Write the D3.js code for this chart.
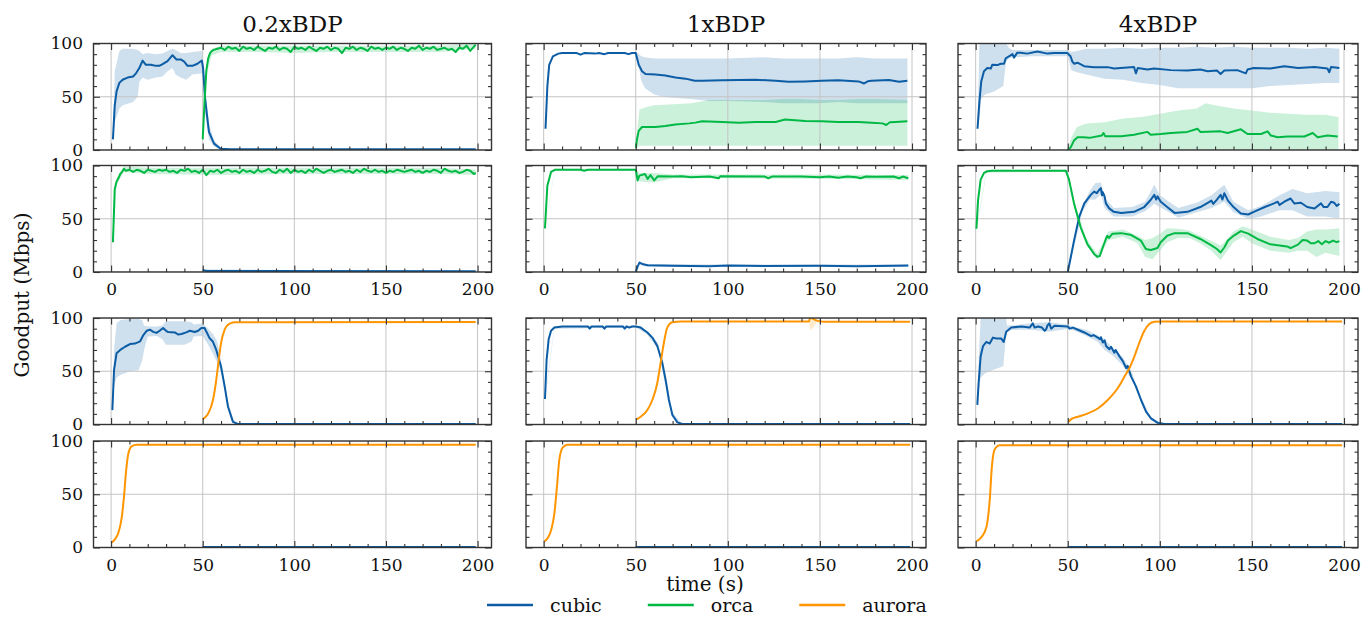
<!DOCTYPE html>
<html>
<head>
<meta charset="utf-8">
<script src="https://cdn.jsdelivr.net/npm/d3@7"></script>
<style>
    body { margin: 0; background: #fff; }
    svg { display: block; }
</style>
</head>
<body>
<svg id="chart" width="1361" height="617"></svg>
<script>
const columnTitles = ["0.2xBDP", "1xBDP", "4xBDP"];
const colors = { cubic: "#0C5DA5", orca: "#00B945", aurora: "#FF9500" };
const legendNames = ["cubic", "orca", "aurora"];
const xTicks = [0, 50, 100, 150, 200];
const xMinor = [10, 20, 30, 40, 60, 70, 80, 90, 110, 120, 130, 140, 160, 170, 180, 190];
const yTicks = [0, 50, 100];
const yMinor = [10, 20, 30, 40, 60, 70, 80, 90];

// ---- row 1 : cubic vs orca (cubic first) ----
const cubic_r1_02 = [[1,10],[2,42],[3,55],[4.5,63],[6.3,66],[9,68],[12,69],[13.6,72],[15.4,77],[17.2,84],[19,80],[21.7,80],[24.5,79],[26.3,79],[28.1,80.6],[30.8,83.5],[33.5,89],[35.7,85],[38,85],[39.9,83],[41.7,79],[44.4,79],[47.1,81],[49.5,84],[50.2,77],[51.3,48],[53.4,17],[56.2,6],[59.8,1.2],[65,0.6],[199,0.6]];
const cubic_r1_02_band = [[1,10,12],[2,26,74],[4.5,39,93],[6.3,42,95],[12,45,95],[14.5,50,94],[15.4,64,93],[17.2,68,90],[19.9,66,91],[24.5,68,90],[28.1,69,90.5],[30.8,74,93],[33.5,77,95],[35.2,71,94],[38,68,91],[41,66,91],[44.4,71,92],[49.5,72,93],[50.2,60,85],[51.3,35,60],[53.4,10,25],[56.2,3,9],[60,0,2],[65,0,1]];
const orca_r1_02_start = [[50,10],[51,45],[52,75],[53,86],[54,91],[55,93]];
const orca_r1_02_vals = [94,95,96,94,97,95,96,93,97,95,96,94,97,95,93,96,95,97,94,96,95,92,97,95,96,94,97,95,93,96,95,97,94,96,95,91,96,95,97,94,96,95,93,97,95,96,94,96,95,97,94,96,95,93,96,95,98,94,96,95,97,94,95,96,94,95,92,96,95,98,93,97];
const orca_r1_02_end = [[199,99]];
const orca_r1_02_band = [[50,8,12],[52,70,80],[55,89,95],[60,92,98],[80,92,98],[100,91,98],[120,92,98],[140,92,98],[160,92,98],[180,92,98],[199,95,100]];

const cubic_r1_1 = [[1,20],[2,60],[3,80],[5,88],[8,90.5],[10,91],[18,91],[20,89.5],[22,91],[28,90.5],[30,91],[33,90],[35,91],[44,91],[46,90],[48,91],[50,91],[51.6,80],[53.4,74],[55.3,71.4],[60.7,70.8],[66,70],[71.6,68],[77,67],[82,65],[86,65],[97,65.4],[106,65.7],[115,66],[126,65],[133,64],[142,64.4],[151,65],[160,65.4],[171,64.4],[174,62.5],[176,64.5],[178,65],[187.5,65.7],[193,64],[197.5,65]];
const cubic_r1_1_band = [[50,89,93],[51,85,91],[53,65,88],[55,58,87],[60,52,86],[65,50,86],[70,49,86],[80,48,86],[90,46,86],[100,46,86],[120,45,87],[130,44,86],[140,44,86],[150,44,86],[160,45,86],[170,44,87],[180,44,86],[190,44,86],[197.5,44,86]];
const orca_r1_1 = [[50,2],[50.7,10.5],[51.6,18],[53.4,21.6],[57,21.6],[60.7,21.6],[66,22.5],[71.5,24],[79,25],[82.4,25.7],[86,27],[97,26.3],[106,25.7],[115,26.3],[126,26.3],[131,28.6],[142,27.3],[151,27],[160,26.3],[171,26.3],[178,25.5],[184,25],[186,23.5],[188,26],[191,26.3],[197.5,27]];
const orca_r1_1_band = [[50,1,5],[52,4,38],[55,4,40],[60,4,42],[70,4,43],[80,4,44],[90,4,47],[100,4,47],[120,4,47],[130,4,48],[140,4,48],[150,4,47],[160,4,47],[170,4,48],[180,4,48],[197.5,4,47]];

const cubic_r1_4 = [[1,20],[2,45],[3,64],[4.5,74],[6.3,77],[8.2,76.5],[9,80],[11.8,79.7],[13.6,81],[15.4,81],[16.3,86],[18.1,88],[20,90],[20.8,86.7],[22.6,91.4],[24.5,91.4],[28,90.5],[33.5,92.4],[39,90.5],[42.6,91],[49.8,91],[51.5,88],[52.5,83],[53.4,81],[55.3,82],[58.9,78.7],[64.3,77.8],[71.6,77.8],[75.2,76.5],[78.8,77],[86,78],[87,72],[88,77],[93.3,75.5],[97,76.5],[106,75],[115,74.6],[122,75.5],[126,74],[131,74.6],[133,71.4],[135,74.6],[142,75],[146.7,72],[147.6,75.5],[151,77],[160,76.5],[167.6,78.7],[175,77],[184,78],[191,76.5],[192,73],[193,78],[197.5,77]];
const cubic_r1_4_band = [[1,18,22],[2,30,100],[3,48,100],[5,52,100],[10,55,100],[15,60,100],[16.5,83,100],[18,86,96],[20,87,94],[30,88,94],[40,88,94],[50,88,94],[52,75,92],[55,73,93],[60,71,95],[70,67,95],[80,66,96],[90,63,95],[100,61,96],[110,58,96],[120,58,97],[130,58,96],[140,58,97],[150,58,96],[160,60,96],[170,61,96],[180,62,95],[190,63,96],[197.5,63,95]];
const orca_r1_4 = [[50,0],[51.6,2.5],[53.4,9],[55.3,12],[58.3,12],[61.8,11.4],[68.5,13.6],[69.4,16],[70.3,13],[79,13],[86,14.3],[93.3,17],[95,14.3],[100.5,15],[106,16],[115,17],[120.4,20],[122,17],[133,17.5],[136.8,16],[144,19.4],[147.6,15],[155,15],[158.5,17.5],[160.3,13.6],[164,12],[169.4,12.7],[178.5,12.7],[183,16],[185.7,12],[191,13.6],[196.6,12.7]];
const orca_r1_4_band = [[50,0,1],[52,0,12],[55,0,21.6],[60,0,24.8],[70,0,26],[80,0,29.5],[90,0,31],[100,0,34],[110,0,37],[120,0,39],[125,0,44],[130,0,42],[140,0,39],[150,0,37],[160,0,35],[170,0,34],[180,0,33],[190,0,33],[197,0,31]];

// ---- row 2 : orca first, cubic joins at 50 s ----
const cubic_r2_02 = [[50,1.8],[52,1],[199,0.6]];
const cubic_r2_02_band = [[50,1,2.5],[199,0,1]];
const orca_r2_02_start = [[1,28],[2,78],[3,85],[4,88],[5,92],[6,94],[7,97]];
const orca_r2_02_vals = [95,96,94,96,95,93,96,95,94,96,95,96,94,95,93,96,95,97,94,95,93,96,91,95,94,96,93,95,96,94,95,93,96,94,95,93,96,94,95,97,94,93,96,94,97,93,96,94,95,93,96,94,97,95,93,95,96,94,95,96,94,95,93,96,94,97,95,94,96,94,95,93,95,94,96,95,94,95,96,94,95,93,95,94,96,95,93,97,95,94,95,93,94,96,95,92];
const orca_r2_02_end = [[199,93]];
const orca_r2_02_band = [[1,26,30],[3,82,88],[7,94,99],[20,92,98],[60,91,98],[100,92,98],[140,92,98],[180,92,98],[199,91,96]];

const cubic_r2_1 = [[50,0],[51,5],[52,8.8],[54,7.2],[56.5,6.3],[70,5.8],[90,5.5],[100,6],[120,5.7],[150,5.8],[170,5.5],[190,5.8],[198,6]];
const cubic_r2_1_band = [[50,0,1],[52,7,10],[56,5,7.5],[100,4.8,7],[198,4.8,7]];
const orca_r2_1 = [[0.7,41],[2,81],[4,94],[6,96],[20,96],[22,95],[24,96],[50,96],[51,86],[52,90.5],[55,92],[56.5,87.4],[58,91],[60,86],[62,90],[70,89.6],[75,90],[80,89],[90,89.6],[95,88],[96,90],[120,89.6],[122,88],[124,89.6],[140,89.6],[150,89],[155,89.6],[160,88.5],[165,89.6],[170,89],[172,88],[175,89.6],[180,89.4],[190,89.6],[193,88],[195,89.6],[198,88]];
const orca_r2_1_band = [[0.7,40,42],[6,95,97],[50,95,97],[52,85,93],[60,84,93],[70,88,91.5],[100,88,91.5],[150,87.5,91.5],[198,86.5,91]];

const cubic_r2_4 = [[50,0],[51.6,13.6],[53.4,29.5],[56.2,51.7],[59,64.4],[62.5,72.4],[64.3,75.5],[65.8,74],[67,77],[68,78.7],[68.6,72],[69,75],[70,71],[70.7,64.4],[72.5,59.7],[75,56.5],[79,55.5],[86,56.5],[91.5,61],[95,67.6],[96,70],[97,72.4],[98,68],[98.7,71],[100.5,66],[104,61],[108,55.5],[115,56.5],[122,61],[126,65],[128,67],[129,64],[131,68],[133,72.4],[134,68],[135,74],[137,67],[140,61],[144,55],[148,54],[151,56.5],[157,61],[162,64.4],[164,66],[165,63],[167.6,66],[171,69],[173,64.4],[176.6,65],[180,61],[184,59.7],[187.5,64.4],[189,61],[191,61],[193,66],[194.7,65],[196,62],[197.5,64]];
const cubic_r2_4_band = [[50,0,2],[54,27,33],[58,57,63],[62,68,76],[65,68,83.5],[68,73,84],[70,60,70],[75,52,60],[85,52,61],[92,57,66],[97,64,82],[100,61,72],[105,56,66],[110,51,60],[120,56,65],[128,60,72],[135,66,82],[140,56,66],[148,50,58],[155,52,62],[165,58,72],[172,58,78],[180,52,74],[190,52,76],[197.5,50,75]];
const orca_r2_4 = [[0.4,40.6],[1.3,67.6],[2.7,86.7],[4.5,93],[6.3,94.6],[9,95],[49,95],[50.7,86.7],[53.4,64.4],[57,42],[60.7,26],[64.3,17],[66,14.3],[67.4,15],[69,23],[70.7,31],[71.5,34],[72.4,32],[74.3,36],[79,36.5],[84,35],[89.7,29.5],[92.4,21.6],[95,20.6],[97,21.6],[98.7,22.5],[100.5,28],[104,34],[108,36.5],[115,36.5],[122,31],[128,25],[131,21.6],[133,18.4],[135,23],[137,29.5],[140,34],[144,38.4],[148,36],[153,31],[160,26],[169,24],[171,22.5],[175,25.7],[177.5,30],[180,29.5],[182,27],[184,27],[186,29],[188,26],[190,29],[192,27.5],[194,29.5],[196,28],[197.5,29]];
const orca_r2_4_band = [[0.4,39,42],[6,93.5,96],[49,94,96],[55,50,58],[60,26,32],[66,12,17],[69,20,27],[72,30,38],[80,33,40],[88,27,34],[92,14,30],[96,12,32],[100,20,36],[104,28,41],[110,32,40.6],[116,32,39],[122,27,34],[128,20,29],[133,11,25],[135,16,28],[140,28,38],[145,33,43],[150,27,40],[160,20,33],[170,18,30],[175,20,32],[180,20,38],[185,14,40],[190,18,40],[197.5,15,41]];

// ---- row 3 : cubic vs aurora (cubic first) ----
const cubic_r3_02 = [[0.7,13.5],[1.6,51],[3,67],[5,70],[7.6,73],[10.3,75.5],[13,76],[15.8,78],[17.6,84],[19.4,88],[21.2,89],[23,87],[24.8,86],[26.5,88],[28.4,90.6],[30,88],[31.2,86.8],[34.8,86.5],[36.5,84.5],[38.4,85],[41,86.5],[43,88],[45.6,86.8],[47.5,88],[49.3,90.6],[51,90.6],[53.8,81],[55.5,78],[57.4,70],[60,54.4],[62,35.5],[63.8,16.7],[66.5,2.5],[69,0.5],[199,0.5]];
const cubic_r3_02_band = [[0.7,12,15],[1.6,35,70],[3,44,95],[5,46.5,98],[10,49.7,99],[15,51,99],[17,60,98],[18,70,93],[20,82.7,92],[25,83,92],[28,80,93],[30,75,97],[35,75,97],[40,75,97],[44,78,96],[45,82.7,94],[50,83,95],[53,75,90],[56,65,84],[58,58,78],[60,50,60],[62,32,40],[64,14,20],[67,1,4],[70,0,1]];
const aurora_r3_02 = [[50,5],[51.5,7],[53,10.4],[55.6,23],[57.4,42],[58.3,54.4],[60,76.4],[62,89],[64.7,94.7],[68,96],[199,96.2]];

const cubic_r3_1 = [[0.7,24],[1.6,61],[2.7,80],[4,88],[5.8,91],[10,92],[24,92],[25,90],[26,92],[32,92],[33,90],[34,92],[43,92],[44,90],[45,92],[46.5,91],[48,92],[50,92],[52.7,91],[56.3,86.4],[59,81.6],[61.7,73.7],[64.4,58],[66.2,42],[68,23],[69.9,8.9],[72.6,2],[75.3,0.5],[199,0.5]];
const cubic_r3_1_band = [[0.7,22,26],[5.8,90,92],[50,91,93],[56,85,88],[62,71,77],[66,38,46],[70,7,11],[75,0,1]];
const aurora_r3_1 = [[50.4,4.7],[52.7,7.3],[56.3,13.6],[59,23],[61.7,39],[63.5,58],[65.3,77],[67.1,91],[69.9,96],[74.4,96.8],[144,96.8],[144.8,100.6],[146.6,99],[148.4,97.5],[152,96.5],[199,96.5]];
const aurora_r3_1_band = [[144,96.5,97],[144.8,88,101],[146.6,92,100],[148.4,96,98.5],[150,96,97]];

const cubic_r3_4 = [[0.9,18.4],[1.6,39],[2.7,64],[4,73.7],[5.8,77.5],[7.6,76],[9.4,81.6],[11.2,80.7],[13.9,80.7],[15.2,77.5],[16.6,87],[19.3,91],[24.8,92],[29.3,91],[31,95],[32,91],[33.8,92],[36,91],[37.5,88],[38.3,89.6],[39,93],[40,95],[41,90],[42.8,92.7],[50,92],[51,90],[52.8,91],[55.5,89],[59,86.4],[62.7,83],[64,84],[66.3,81.6],[67.5,80],[68,82],[69,77],[70,79],[70.8,73.7],[72.6,70.6],[73.5,73],[75.3,67.4],[76,70],[78,64.2],[79.9,59.5],[81.7,53],[82.5,55],[84.4,45],[87,35.8],[89.8,23],[92.5,12],[95.2,5.7],[98.8,1.6],[102.4,0.5],[199,0.5]];
const cubic_r3_4_band = [[0.9,16,20],[1.6,30,60],[2.7,44,100],[5,48,100],[10,51.6,100],[15,54.7,100],[16.5,85,100],[17,87,93],[20,89,93],[30,89,95],[40,87,96],[50,90,94],[55,87,91],[60,83,89],[66,78,84],[70,70,80],[75,64,71],[80,55,63],[85,42,48],[90,21,25],[95,4,7],[100,0,2]];
const aurora_r3_4 = [[50.4,2.5],[51.9,5],[55.5,7.3],[60.9,10.4],[66.3,15],[71.7,23],[77.1,34],[80.8,45],[83.5,53],[86.2,64],[88.9,77],[91.6,88],[94.3,94.3],[97,96.5],[100.6,96.8],[199,96.8]];

// ---- row 4 : aurora first, cubic joins at 50 s ----
const cubic_r4 = [[50,0.5],[199,0.5]];
const aurora_r4_02 = [[0.4,4.7],[2.2,7.9],[4,14],[5.8,28],[7,47],[8.2,72],[9.4,88],[11.2,95],[14,96.5],[199,96.5]];
const aurora_r4_1 = [[0.4,5.7],[2.2,8.9],[4,15.9],[5.8,31.7],[7.2,57],[8.5,82.5],[10.3,93.7],[13,96.5],[199,96.5]];
const aurora_r4_4 = [[0.4,5.7],[3,9.5],[5.8,19],[7.6,44],[8.8,76],[10.3,92],[13,96],[199,96]];

// noisy orca series: values were read every 2 s
const withSteps = (start, vals, t0, end) => [...start, ...vals.map((v, i) => [t0 + 2 * i, v]), ...end];
const orca_r1_02 = withSteps(orca_r1_02_start, orca_r1_02_vals, 56, orca_r1_02_end);
const orca_r2_02 = withSteps(orca_r2_02_start, orca_r2_02_vals, 8, orca_r2_02_end);

const panels = [
    [
        [{ name: "cubic", line: cubic_r1_02, band: cubic_r1_02_band }, { name: "orca", line: orca_r1_02, band: orca_r1_02_band }],
        [{ name: "cubic", line: cubic_r1_1, band: cubic_r1_1_band }, { name: "orca", line: orca_r1_1, band: orca_r1_1_band }],
        [{ name: "cubic", line: cubic_r1_4, band: cubic_r1_4_band }, { name: "orca", line: orca_r1_4, band: orca_r1_4_band }]
    ],
    [
        [{ name: "cubic", line: cubic_r2_02, band: cubic_r2_02_band }, { name: "orca", line: orca_r2_02, band: orca_r2_02_band }],
        [{ name: "cubic", line: cubic_r2_1, band: cubic_r2_1_band }, { name: "orca", line: orca_r2_1, band: orca_r2_1_band }],
        [{ name: "cubic", line: cubic_r2_4, band: cubic_r2_4_band }, { name: "orca", line: orca_r2_4, band: orca_r2_4_band }]
    ],
    [
        [{ name: "cubic", line: cubic_r3_02, band: cubic_r3_02_band }, { name: "aurora", line: aurora_r3_02, smooth: true }],
        [{ name: "cubic", line: cubic_r3_1, band: cubic_r3_1_band }, { name: "aurora", line: aurora_r3_1, band: aurora_r3_1_band, smooth: true }],
        [{ name: "cubic", line: cubic_r3_4, band: cubic_r3_4_band }, { name: "aurora", line: aurora_r3_4, smooth: true }]
    ],
    [
        [{ name: "cubic", line: cubic_r4 }, { name: "aurora", line: aurora_r4_02, smooth: true }],
        [{ name: "cubic", line: cubic_r4 }, { name: "aurora", line: aurora_r4_1, smooth: true }],
        [{ name: "cubic", line: cubic_r4 }, { name: "aurora", line: aurora_r4_4, smooth: true }]
    ]
];

// layout
const FONT = "DejaVu Serif";
const colLeft = [93.5, 526, 958];
const colWidth = [398, 400, 400];
const rowTop = [43.5, 165.5, 318, 441];
const panelH = 106.5;
const xDomain = [-9.6, 207.6];

const svg = d3.select("#chart");
svg.append("rect").attr("width", 1361).attr("height", 617).attr("fill", "#fff");

panels.forEach((row, ri) => {
    row.forEach((seriesList, ci) => {
        const left = colLeft[ci], w = colWidth[ci], top = rowTop[ri];
        const x = d3.scaleLinear().domain(xDomain).range([left, left + w]);
        const y = d3.scaleLinear().domain([0, 100]).range([top + panelH, top]);

        const g = svg.append("g").attr("class", `panel r${ri} c${ci}`);
        const clipId = `clip-${ri}-${ci}`;
        g.append("clipPath").attr("id", clipId)
            .append("rect").attr("x", left).attr("y", top).attr("width", w).attr("height", panelH);

        const plot = g.append("g").attr("clip-path", `url(#${clipId})`);

        // bands below the grid
        seriesList.forEach((s) => {
            if (!s.band) return;
            const area = d3.area()
                .x((d) => x(d[0]))
                .y0((d) => y(d[1]))
                .y1((d) => y(d[2]))
                .curve(d3.curveLinear);
            plot.append("path").datum(s.band)
                .attr("d", area)
                .attr("fill", colors[s.name])
                .attr("fill-opacity", 0.2);
        });

        // grid
        plot.append("g").selectAll("line").data(xTicks).join("line")
            .attr("x1", (d) => x(d)).attr("x2", (d) => x(d))
            .attr("y1", top).attr("y2", top + panelH)
            .attr("stroke", "#c4c4c4").attr("stroke-width", 1);
        plot.append("g").selectAll("line").data(yTicks).join("line")
            .attr("x1", left).attr("x2", left + w)
            .attr("y1", (d) => y(d)).attr("y2", (d) => y(d))
            .attr("stroke", "#c4c4c4").attr("stroke-width", 1);

        // lines
        seriesList.forEach((s) => {
            const line = d3.line()
                .x((d) => x(d[0]))
                .y((d) => y(d[1]))
                .curve(s.smooth ? d3.curveMonotoneX : d3.curveLinear);
            plot.append("path").datum(s.line)
                .attr("d", line)
                .attr("fill", "none")
                .attr("stroke", colors[s.name])
                .attr("stroke-width", 2)
                .attr("stroke-linejoin", "round");
        });

        // ticks, all pointing inward
        const showX = ri == 1 || ri == 3;
        const showY = ci == 0;
        const styleAxis = (sel) => {
            sel.select(".domain").remove();
            sel.selectAll("line").attr("stroke", "#333").attr("stroke-width", 1.1);
            sel.selectAll("text").attr("font-family", FONT).attr("font-size", 17).attr("fill", "#111");
            sel.attr("font-family", FONT);
        };

        g.append("g").attr("transform", `translate(0,${top + panelH})`)
            .call(d3.axisBottom(x).tickValues(xTicks).tickSize(-6.5).tickPadding(11)
                .tickFormat(showX ? d3.format("d") : () => ""))
            .call(styleAxis);
        g.append("g").attr("transform", `translate(0,${top + panelH})`)
            .call(d3.axisBottom(x).tickValues(xMinor).tickSize(-3.5).tickFormat(() => ""))
            .call(styleAxis);
        g.append("g").attr("transform", `translate(0,${top})`)
            .call(d3.axisTop(x).tickValues(xTicks).tickSize(-6.5).tickFormat(() => ""))
            .call(styleAxis);
        g.append("g").attr("transform", `translate(0,${top})`)
            .call(d3.axisTop(x).tickValues(xMinor).tickSize(-3.5).tickFormat(() => ""))
            .call(styleAxis);
        g.append("g").attr("transform", `translate(${left},0)`)
            .call(d3.axisLeft(y).tickValues(yTicks).tickSize(-6.5).tickPadding(10.5)
                .tickFormat(showY ? d3.format("d") : () => ""))
            .call(styleAxis);
        g.append("g").attr("transform", `translate(${left},0)`)
            .call(d3.axisLeft(y).tickValues(yMinor).tickSize(-3.5).tickFormat(() => ""))
            .call(styleAxis);
        g.append("g").attr("transform", `translate(${left + w},0)`)
            .call(d3.axisRight(y).tickValues(yTicks).tickSize(-6.5).tickFormat(() => ""))
            .call(styleAxis);
        g.append("g").attr("transform", `translate(${left + w},0)`)
            .call(d3.axisRight(y).tickValues(yMinor).tickSize(-3.5).tickFormat(() => ""))
            .call(styleAxis);

        // frame
        g.append("rect")
            .attr("x", left).attr("y", top).attr("width", w).attr("height", panelH)
            .attr("fill", "none").attr("stroke", "#333").attr("stroke-width", 1.4);

        if (ri == 0) {
            svg.append("text")
                .attr("x", left + w / 2).attr("y", 32)
                .attr("text-anchor", "middle")
                .attr("font-family", FONT).attr("font-size", 23).attr("fill", "#111")
                .text(columnTitles[ci]);
        }
    });
});

// axis labels
svg.append("text")
    .attr("transform", "translate(29,295) rotate(-90)")
    .attr("text-anchor", "middle")
    .attr("font-family", FONT).attr("font-size", 20).attr("fill", "#111")
    .text("Goodput (Mbps)");
svg.append("text")
    .attr("x", 705).attr("y", 591)
    .attr("text-anchor", "middle")
    .attr("font-family", FONT).attr("font-size", 20).attr("fill", "#111")
    .text("time (s)");

// legend: handle, gap, label, then column spacing
const legend = svg.append("g").attr("class", "legend");
let lx = 487;
legendNames.forEach((name) => {
    legend.append("line")
        .attr("x1", lx).attr("x2", lx + 46)
        .attr("y1", 605).attr("y2", 605)
        .attr("stroke", colors[name]).attr("stroke-width", 2.5);
    const label = legend.append("text")
        .attr("x", lx + 63).attr("y", 612)
        .attr("font-family", FONT).attr("font-size", 19).attr("fill", "#111")
        .text(name);
    lx = lx + 63 + label.node().getComputedTextLength() + 46;
});
</script>
</body>
</html>
